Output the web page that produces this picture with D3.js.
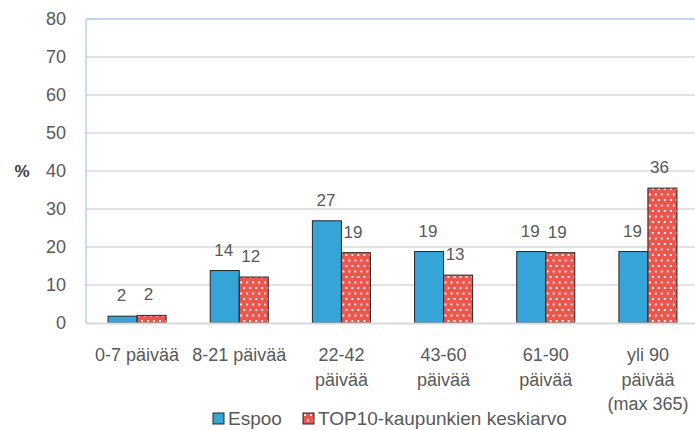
<!DOCTYPE html>
<meta charset="utf-8">
<style>
body, html {
  margin: 0;
  padding: 0;
  background: #fff;
}
text {
  font-family: "Liberation Sans", Arial, sans-serif;
  fill: #595959;
}
</style>
<div id="chart"></div>
<script src="https://d3js.org/d3.v7.min.js"></script>
<script>
const categories = [["0-7 päivää"], ["8-21 päivää"], ["22-42", "päivää"], ["43-60", "päivää"], ["61-90", "päivää"], ["yli 90", "päivää", "(max 365)"]]
const espoo = [1.8, 13.8, 26.9, 18.8, 18.8, 18.8]
const top10 = [2.0, 12.1, 18.5, 12.6, 18.5, 35.5]
const seriesNames = ["Espoo", "TOP10-kaupunkien keskiarvo"]
const yTicks = [0, 10, 20, 30, 40, 50, 60, 70, 80]

const width = 695, height = 430
const margin = {top: 19, right: -4, bottom: 107, left: 86}

const svg = d3.select("#chart").append("svg")
  .attr("width", width)
  .attr("height", height)

const defs = svg.append("defs")
const pat = defs.append("pattern")
  .attr("id", "dots")
  .attr("patternUnits", "userSpaceOnUse")
  .attr("width", 6)
  .attr("height", 11)
pat.append("rect").attr("width", 6).attr("height", 11).attr("fill", "#e9574f")
pat.append("rect").attr("x", 1).attr("y", 1).attr("width", 2).attr("height", 2).attr("fill", "#fff").attr("opacity", 0.85)
pat.append("rect").attr("x", 4).attr("y", 6.5).attr("width", 2).attr("height", 2).attr("fill", "#fff").attr("opacity", 0.85)

const x = d3.scaleBand()
  .domain(d3.range(categories.length))
  .range([margin.left, width - margin.right])
  .paddingInner(0)
  .paddingOuter(0)

const sub = d3.scaleBand()
  .domain([0, 1])
  .range([0, x.bandwidth()])
  .paddingInner(0)
  .paddingOuter(0.76)

const y = d3.scaleLinear()
  .domain([0, 80])
  .range([height - margin.bottom, margin.top])

// gridlines
svg.append("g")
  .selectAll("line")
  .data(yTicks.filter(d => d > 0 && d < 80))
  .join("line")
  .attr("x1", margin.left)
  .attr("x2", width)
  .attr("y1", d => y(d))
  .attr("y2", d => y(d))
  .attr("stroke", "#d9d9d9")
  .attr("stroke-width", 1.5)

// y tick labels
svg.append("g")
  .selectAll("text")
  .data(yTicks)
  .join("text")
  .attr("x", 66)
  .attr("y", d => y(d))
  .attr("dy", "0.35em")
  .attr("text-anchor", "end")
  .style("font-size", "18px")
  .text(d => d)

svg.append("text")
  .attr("x", 22)
  .attr("y", y(40))
  .attr("dy", "0.35em")
  .attr("text-anchor", "middle")
  .style("font-size", "17px")
  .style("font-weight", "bold")
  .style("fill", "#404040")
  .text("%")

// bars
const series = [espoo, top10]
const groups = svg.append("g")
  .selectAll("g")
  .data(categories)
  .join("g")
  .attr("transform", (d, i) => "translate(" + x(i) + ",0)")

groups.selectAll("rect")
  .data((d, i) => series.map((s, k) => ({k: k, v: s[i]})))
  .join("rect")
  .attr("x", d => sub(d.k))
  .attr("width", sub.bandwidth())
  .attr("y", d => y(d.v))
  .attr("height", d => y(0) - y(d.v))
  .attr("fill", d => d.k === 0 ? "#35a4d7" : "url(#dots)")
  .attr("stroke", "#262626")
  .attr("stroke-width", 1)

groups.selectAll("text.val")
  .data((d, i) => series.map((s, k) => ({k: k, v: s[i]})))
  .join("text")
  .attr("class", "val")
  .attr("x", d => sub(d.k) + sub.bandwidth() / 2 + (d.k === 0 ? -1 : -3))
  .attr("y", d => y(d.v) - 21)
  .attr("dy", "0.35em")
  .attr("text-anchor", "middle")
  .style("font-size", "17px")
  .text(d => Math.round(d.v))

// axis lines
svg.append("line")
  .attr("x1", margin.left).attr("x2", width)
  .attr("y1", y(0) + 0.5).attr("y2", y(0) + 0.5)
  .attr("stroke", "#d9d9d9").attr("stroke-width", 2)
svg.append("line")
  .attr("x1", margin.left).attr("x2", width)
  .attr("y1", y(80)).attr("y2", y(80))
  .attr("stroke", "#a9c4e8").attr("stroke-width", 1.5)
svg.append("line")
  .attr("x1", margin.left).attr("x2", margin.left)
  .attr("y1", y(80)).attr("y2", y(0))
  .attr("stroke", "#bcd3ef").attr("stroke-width", 1.5)

// category labels
groups.append("text")
  .attr("x", x.bandwidth() / 2)
  .attr("y", 361)
  .attr("text-anchor", "middle")
  .style("font-size", "18px")
  .selectAll("tspan")
  .data(d => d)
  .join("tspan")
  .attr("x", x.bandwidth() / 2)
  .attr("dy", (d, i) => i === 0 ? 0 : 24.5)
  .text(d => d)

// legend
const legendX = [213, 303]
const legend = svg.append("g")
  .selectAll("g")
  .data(seriesNames)
  .join("g")
  .attr("transform", (d, i) => "translate(" + legendX[i] + ",413)")
legend.append("rect")
  .attr("width", 11)
  .attr("height", 11)
  .attr("fill", (d, i) => i === 0 ? "#35a4d7" : "url(#dots)")
  .attr("stroke", "#262626")
  .attr("stroke-width", 1)
legend.append("text")
  .attr("x", 15)
  .attr("y", 5.5)
  .attr("dy", "0.35em")
  .style("font-size", "19px")
  .text(d => d)
</script>
